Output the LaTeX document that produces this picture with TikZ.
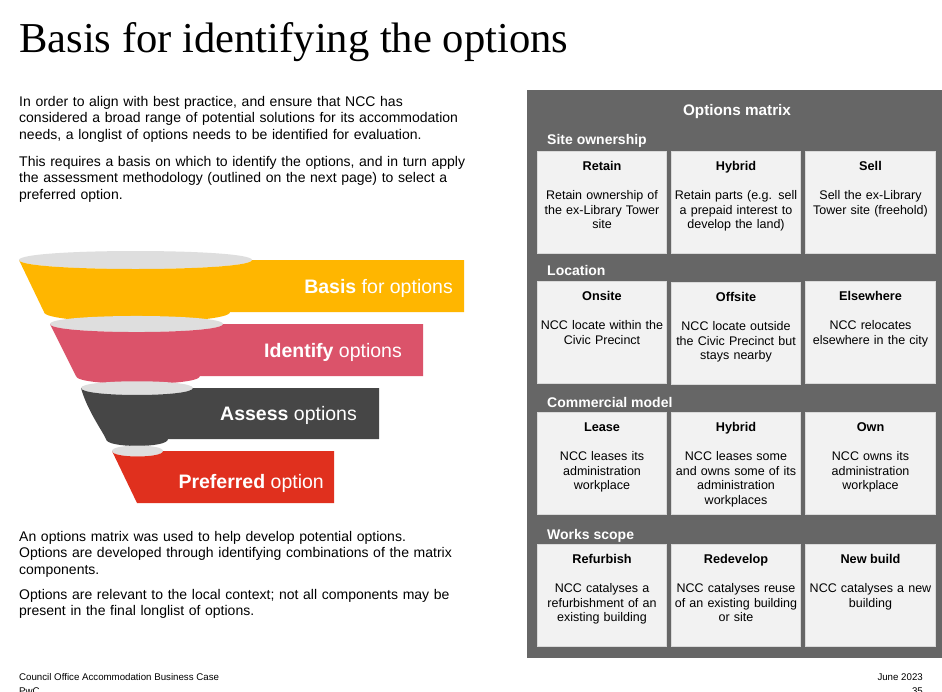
\documentclass[tikz,border=0pt]{standalone}
\usepackage{fontspec}
\setmainfont{Liberation Sans}
\newfontfamily\titlefont{Liberation Serif}
\definecolor{fyellow}{HTML}{FFB600}
\definecolor{fpink}{HTML}{DB536A}
\definecolor{fdark}{HTML}{464646}
\definecolor{fred}{HTML}{E0301E}
\definecolor{fgrey}{HTML}{DEDEDE}
\definecolor{panelc}{HTML}{666666}
\definecolor{boxfill}{HTML}{F2F2F2}
\definecolor{boxline}{HTML}{DADADA}
\tikzset{
  bodytxt/.style={anchor=base west, inner sep=0pt, text width=490pt, align=left,
    font=\fontsize{14}{16.5}\selectfont},
  funtxt/.style={anchor=base east, inner sep=0pt, text=white, font=\fontsize{19.5}{22}\selectfont},
  sechead/.style={anchor=base west, inner sep=0pt, text=white, font=\bfseries\fontsize{14}{16}\selectfont},
  mbox/.style={draw=boxline, fill=boxfill, line width=0.8pt, minimum width=129.5pt,
    minimum height=102pt, inner sep=0pt, anchor=north},
  mtitle/.style={anchor=base, inner sep=0pt, font=\bfseries\fontsize{12.7}{15}\selectfont},
  mdesc/.style={anchor=base, inner sep=0pt, text width=130pt, align=center,
    font=\fontsize{12.5}{14.7}\selectfont},
  foot/.style={inner sep=0pt, font=\fontsize{9.7}{11}\selectfont}
}
\newcommand\mcell[5]{%
  \node[mbox] (#1) at (#2,#3) {};
  \node[mtitle] (#1t) at (#2,#3+19.5) {#4};
  \node[mdesc] (#1d) at (#2,#3+48.5) {#5};
}
\begin{document}
\begin{tikzpicture}[x=1pt,y=-1pt]
\useasboundingbox (0,0) rectangle (942,691);
\clip (0,0) rectangle (942,691);
\fill[white] (0,0) rectangle (942,691);

% title
\node[anchor=base west, inner sep=0pt, font=\titlefont\fontsize{42.6}{48}\selectfont] (title) at (19,52) {Basis for identifying the options};

% left text
\node[bodytxt] (p1) at (19,106) {In order to align with best practice, and ensure that NCC has\\considered a broad range of potential solutions for its accommodation\\needs, a longlist of options needs to be identified for evaluation.};
\node[bodytxt] (p2) at (19,166) {This requires a basis on which to identify the options, and in turn apply\\the assessment methodology (outlined on the next page) to select a\\preferred option.};
\node[bodytxt] (p3) at (19,541) {An options matrix was used to help develop potential options.\\Options are developed through identifying combinations of the matrix\\components.};
\node[bodytxt] (p4) at (19,599) {Options are relevant to the local context; not all components may be\\present in the final longlist of options.};

% funnel band 1
\fill[fgrey] (19,260) .. controls (19,248) and (252,248) .. (252,260) .. controls (252,272) and (19,272) .. (19,260) -- cycle;
\fill[fyellow] (19,260) .. controls (19,272) and (252,272) .. (252,260) -- (464,260) -- (464,312) -- (230,312) .. controls (230,325.3) and (44,325.3) .. (44,312) -- cycle;
% band 2
\fill[fgrey] (50,324) .. controls (50,313.3) and (223,313.3) .. (223,324) .. controls (223,334.7) and (50,334.7) .. (50,324) -- cycle;
\fill[fpink] (50,324) .. controls (50,334.7) and (223,334.7) .. (223,324) -- (423,324) -- (423,376) -- (200,376) .. controls (200,386.7) and (76,386.7) .. (76,376) -- cycle;
% band 3
\fill[fgrey] (81,388) .. controls (81,379) and (193,379) .. (193,388) .. controls (193,397.3) and (81,397.3) .. (81,388) -- cycle;
\fill[fdark] (81,388) .. controls (81,397.3) and (193,397.3) .. (193,388) -- (379,388) -- (379,439) -- (168,439) .. controls (168,448.3) and (106,448.3) .. (106,439) .. controls (103,432) and (87,410) .. (81,388) -- cycle;
% band 4
\fill[fgrey] (112,451) .. controls (112,443.7) and (163,443.7) .. (163,451) .. controls (163,458.3) and (112,458.3) .. (112,451) -- cycle;
\fill[fred] (112,451) .. controls (112,458.3) and (163,458.3) .. (163,451) -- (334,451) -- (334,503) -- (137,503) -- cycle;

\node[funtxt] (f1) at (453,293.3) {\textbf{Basis} for options};
\node[funtxt] (f2) at (402,357.5) {\textbf{Identify} options};
\node[funtxt] (f3) at (357,420) {\textbf{Assess} options};
\node[funtxt] (f4) at (324,488.5) {\textbf{Preferred} option};

% options matrix panel
\fill[panelc] (527,90) rectangle (942,658);
\node[anchor=base, inner sep=0pt, text=white, font=\bfseries\fontsize{15.3}{18}\selectfont] (mt) at (737,115.5) {Options matrix};

\node[sechead] (h1) at (547,144) {Site ownership};
\node[sechead] (h2) at (547,275) {Location};
\node[sechead] (h3) at (547,407) {Commercial model};
\node[sechead] (h4) at (547,539) {Works scope};

\mcell{a1}{602}{151}{Retain}{Retain ownership of\\the ex-Library Tower\\site}
\mcell{a2}{736}{151}{Hybrid}{Retain parts (e.g. sell\\a prepaid interest to\\develop the land)}
\mcell{a3}{870.5}{151}{Sell}{Sell the ex-Library\\Tower site (freehold)}

\mcell{b1}{602}{281}{Onsite}{NCC locate within the\\Civic Precinct}
\mcell{b2}{736}{282}{Offsite}{NCC locate outside\\the Civic Precinct but\\stays nearby}
\mcell{b3}{870.5}{281}{Elsewhere}{NCC relocates\\elsewhere in the city}

\mcell{c1}{602}{412}{Lease}{NCC leases its\\administration\\workplace}
\mcell{c2}{736}{412}{Hybrid}{NCC leases some\\and owns some of its\\administration\\workplaces}
\mcell{c3}{870.5}{412}{Own}{NCC owns its\\administration\\workplace}

\mcell{d1}{602}{544}{Refurbish}{NCC catalyses a\\refurbishment of an\\existing building}
\mcell{d2}{736}{544}{Redevelop}{NCC catalyses reuse\\of an existing building\\or site}
\mcell{d3}{870.5}{544}{New build}{NCC catalyses a new\\building}

% footer
\node[foot, anchor=base west] (fl) at (19,680.5) {Council Office Accommodation Business Case};
\node[foot, anchor=base east] (fr) at (923,680.5) {June 2023};
\node[foot, anchor=base west] (fl2) at (19,694) {PwC};
\node[foot, anchor=base east] (fr2) at (923,694) {35};
\end{tikzpicture}
\end{document}
